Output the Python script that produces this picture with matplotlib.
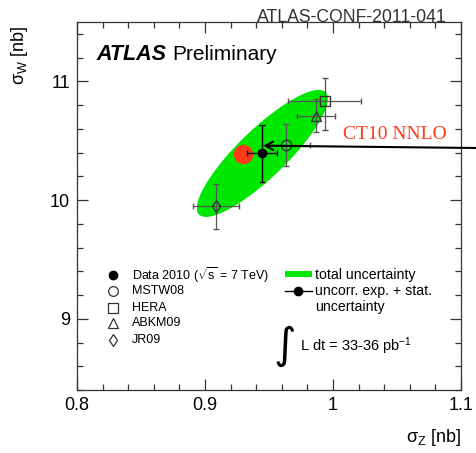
import numpy as np
import matplotlib
matplotlib.use("Agg")
import matplotlib.pyplot as plt
from matplotlib.ticker import MultipleLocator, FixedLocator, FixedFormatter

plt.rcParams['font.family'] = ['Liberation Sans', 'DejaVu Sans']
plt.rcParams['mathtext.fontset'] = 'custom'
plt.rcParams['mathtext.rm'] = 'Liberation Sans'
plt.rcParams['mathtext.it'] = 'Liberation Sans:italic'
plt.rcParams['mathtext.bf'] = 'Liberation Sans:bold'

# ---- data ----
data_z, data_w = 0.9448, 10.393
data_zerr, data_werr = 0.0117, 0.243
# total-uncertainty ellipse (half-extents and correlation)
ell_sz, ell_sw, ell_rho = 0.0512, 0.535, 0.86

ct10_z, ct10_w = 0.9299, 10.388

model_names = ["MSTW08", "HERA", "ABKM09", "JR09"]
model_z = [0.9633, 0.9935, 0.9865, 0.9083]
model_w = [10.464, 10.837, 10.712, 9.946]
model_zerr = [0.019, 0.0287, 0.0148, 0.018]
model_werr_lo = [0.177, 0.25, 0.14, 0.19]
model_werr_hi = [0.177, 0.19, 0.14, 0.19]
model_markers = ["o", "s", "^", "d"]

xticks = [0.8, 0.9, 1.0, 1.1]
xticklabels = ["0.8", "0.9", "1", "1.1"]
yticks = [9, 10, 11]
yticklabels = ["9", "10", "11"]

W, H = 477, 453
fig = plt.figure(figsize=(W / 100, H / 100), dpi=100)
ax = fig.add_axes([77 / W, 1 - 390 / H, 384 / W, 368 / H])
ax.set_xlim(0.8, 1.1)
ax.set_ylim(8.4, 11.5)

# ellipse
t = np.linspace(0, 2 * np.pi, 400)
phi = np.arccos(ell_rho)
ex = data_z + ell_sz * np.cos(t)
ey = data_w + ell_sw * np.cos(t - phi)
ax.fill(ex, ey, color='#00e800', lw=0, zorder=1)

# model points
egray = '#555555'
for i in range(len(model_names)):
    ax.errorbar([model_z[i]], [model_w[i]], xerr=[[model_zerr[i]], [model_zerr[i]]],
                yerr=[[model_werr_lo[i]], [model_werr_hi[i]]],
                fmt=model_markers[i], mfc='none', mec='#333333', mew=1.0,
                ms=7.5 if model_markers[i] != 'd' else 6.5,
                ecolor=egray, elinewidth=0.9, capsize=2.5, capthick=0.9, zorder=3)

# CT10 red point
ax.plot([ct10_z], [ct10_w], 'o', color='#ff3a1a', ms=14, mec='none', zorder=4)

# data point
ax.errorbar([data_z], [data_w], xerr=data_zerr, yerr=data_werr, fmt='o', color='black',
            ms=6, ecolor='black', elinewidth=1.0, capsize=2.5, capthick=1.0, zorder=5)

# arrow
ax.annotate('', xy=(0.9456, 10.458), xycoords='data',
            xytext=(1.0, 1 - 148 / H), textcoords='figure fraction',
            arrowprops=dict(arrowstyle='->,head_length=0.55,head_width=0.3', lw=1.5,
                            color='black', shrinkA=0, shrinkB=0),
            annotation_clip=False, zorder=6)
fig.text(343 / W, 1 - 139 / H, 'CT10 NNLO', color='#ff3a1a', fontsize=14,
         family='Liberation Serif', ha='left', va='baseline')

# ticks
ax.xaxis.set_major_locator(FixedLocator(xticks))
ax.xaxis.set_major_formatter(FixedFormatter(xticklabels))
ax.xaxis.set_minor_locator(MultipleLocator(0.02))
ax.yaxis.set_major_locator(FixedLocator(yticks))
ax.yaxis.set_major_formatter(FixedFormatter(yticklabels))
ax.yaxis.set_minor_locator(MultipleLocator(0.2))
ax.tick_params(which='both', direction='in', top=True, right=True, width=0.9, color='#333333')
ax.tick_params(which='major', length=8, labelsize=13, pad=5)
ax.tick_params(which='minor', length=4.5)
for s in ax.spines.values():
    s.set_linewidth(0.9)
    s.set_color('#333333')

# axis labels
fig.text(20 / W, 1 - 26 / H, 'σ$_\\mathregular{W}$ [nb]', rotation=90, ha='center', va='top', fontsize=13)
fig.text(461 / W, 1 - 437 / H, 'σ$_\\mathregular{Z}$ [nb]', ha='right', va='center', fontsize=13)

# header texts
ax.text(0.051, 0.897, 'ATLAS', transform=ax.transAxes, fontsize=15.5, fontweight='bold',
        fontstyle='italic', ha='left', va='baseline')
ax.text((172.7 - 77) / 384, 0.897, 'Preliminary', transform=ax.transAxes, fontsize=15,
        ha='left', va='baseline')
fig.text(447 / W, 1 - 22 / H, 'ATLAS-CONF-2011-041', color='#333333', fontsize=12.7,
         ha='right', va='baseline')

# legend (left)
def ax2(px, py):
    return ((px - 77) / 384, (390 - py) / 368)

leg_rows = [275, 290.7, 307.7, 323, 340]
leg_labels = ['Data 2010 ($\\sqrt{\\mathregular{s}}$ = 7 TeV)'] + model_names
leg_markers = ['o'] + model_markers
for r, lab, m in zip(leg_rows, leg_labels, leg_markers):
    mx, my = ax2(113, r)
    if m == 'o' and lab.startswith('Data'):
        ax.plot([mx], [my], 'o', color='black', ms=6, transform=ax.transAxes, clip_on=False)
    else:
        ax.plot([mx], [my], m, mfc='none', mec='#333333', mew=0.9,
                ms=7 if m != 'd' else 6, transform=ax.transAxes, clip_on=False)
    tx, ty = ax2(131.7, r)
    ax.text(tx, ty, lab, transform=ax.transAxes, fontsize=9, ha='left', va='center')

# legend (right)
x0, y0 = ax2(285, 277)
x1, y1 = ax2(311.7, 271)
ax.fill([x0, x1, x1, x0], [y0, y0, y1, y1], color='#00e800', lw=0, transform=ax.transAxes)
tx, ty = ax2(315, 274.5)
ax.text(tx, ty, 'total uncertainty', transform=ax.transAxes, fontsize=10.2, ha='left', va='center')
lx0, ly = ax2(285, 290.7)
lx1, _ = ax2(311.7, 290.7)
ax.plot([lx0, lx1], [ly, ly], '-', color='black', lw=1.0, transform=ax.transAxes)
ax.plot([(lx0 + lx1) / 2], [ly], 'o', color='black', ms=6, transform=ax.transAxes)
tx, ty = ax2(315, 290.7)
ax.text(tx, ty, 'uncorr. exp. + stat.', transform=ax.transAxes, fontsize=10.2, ha='left', va='center')
tx, ty = ax2(315, 307)
ax.text(tx, ty, 'uncertainty', transform=ax.transAxes, fontsize=10.2, ha='left', va='center')
ix, iy = ax2(296, 346)
ax.text(ix, iy, '∫', transform=ax.transAxes, fontsize=31, family='DejaVu Sans',
        ha='right', va='center')
tx, ty = ax2(300, 346.7)
ax.text(tx, ty, 'L dt = 33-36 pb$^{\\mathregular{-1}}$', transform=ax.transAxes, fontsize=10.5,
        ha='left', va='center')

fig.savefig('out.png', dpi=100)
